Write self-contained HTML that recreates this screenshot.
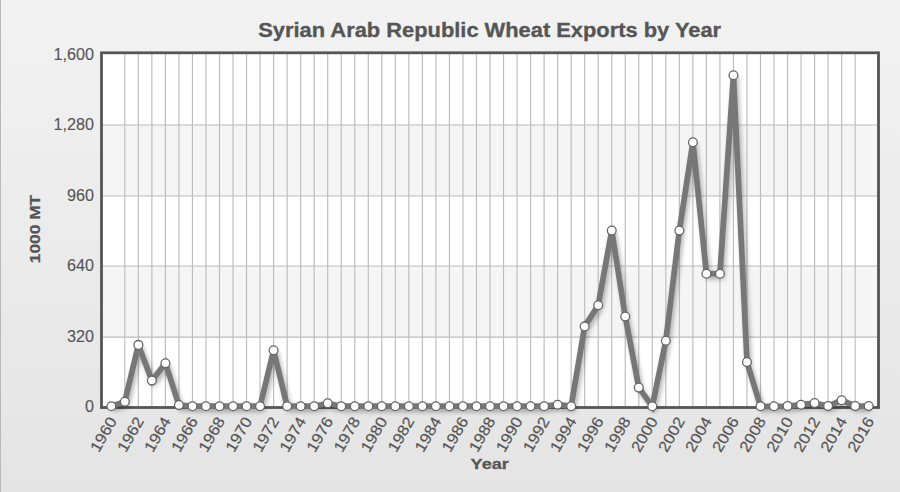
<!DOCTYPE html>
<html><head><meta charset="utf-8"><style>
html,body{margin:0;padding:0;width:900px;height:492px;overflow:hidden;background:#f0f0f0}
svg{display:block}
text{font-family:"Liberation Sans",sans-serif;fill:#555}
.ax{font-size:16px;stroke:#555;stroke-width:0.12px}
.xl{font-size:15.5px;stroke:#555;stroke-width:0.2px}
.title{font-size:19.4px;font-weight:bold;stroke:#555;stroke-width:0.3px}
.axt{font-size:15.5px;font-weight:bold;stroke:#555;stroke-width:0.25px}
</style></head><body>
<svg width="900" height="492" viewBox="0 0 900 492">
<defs>
<linearGradient id="bg" x1="0" y1="0" x2="0" y2="1"><stop offset="0" stop-color="#f2f2f2"/><stop offset="1" stop-color="#e4e4e4"/></linearGradient>
<filter id="sh" x="-20%" y="-20%" width="140%" height="140%"><feGaussianBlur stdDeviation="2"/></filter>
</defs>
<rect x="0" y="0" width="900" height="492" fill="url(#bg)"/>
<rect x="0" y="0" width="1" height="492" fill="#b9b9b9"/>
<rect x="101.5" y="52.80" width="777.0" height="72.20" fill="#ffffff"/>
<rect x="101.5" y="125.00" width="777.0" height="71.00" fill="#f5f5f5"/>
<rect x="101.5" y="196.00" width="777.0" height="70.00" fill="#ffffff"/>
<rect x="101.5" y="266.00" width="777.0" height="71.10" fill="#f5f5f5"/>
<rect x="101.5" y="337.10" width="777.0" height="70.40" fill="#ffffff"/>
<line x1="101.5" x2="878.5" y1="125.0" y2="125.0" stroke="#bcbcbc" stroke-width="1.15"/>
<line x1="101.5" x2="878.5" y1="196.0" y2="196.0" stroke="#bcbcbc" stroke-width="1.15"/>
<line x1="101.5" x2="878.5" y1="266.0" y2="266.0" stroke="#bcbcbc" stroke-width="1.15"/>
<line x1="101.5" x2="878.5" y1="337.1" y2="337.1" stroke="#bcbcbc" stroke-width="1.15"/>
<line x1="124.83" x2="124.83" y1="52.8" y2="407.5" stroke="#bcbcbc" stroke-width="1.15"/>
<line x1="138.35" x2="138.35" y1="52.8" y2="407.5" stroke="#bcbcbc" stroke-width="1.15"/>
<line x1="151.88" x2="151.88" y1="52.8" y2="407.5" stroke="#bcbcbc" stroke-width="1.15"/>
<line x1="165.40" x2="165.40" y1="52.8" y2="407.5" stroke="#bcbcbc" stroke-width="1.15"/>
<line x1="178.93" x2="178.93" y1="52.8" y2="407.5" stroke="#bcbcbc" stroke-width="1.15"/>
<line x1="192.45" x2="192.45" y1="52.8" y2="407.5" stroke="#bcbcbc" stroke-width="1.15"/>
<line x1="205.97" x2="205.97" y1="52.8" y2="407.5" stroke="#bcbcbc" stroke-width="1.15"/>
<line x1="219.50" x2="219.50" y1="52.8" y2="407.5" stroke="#bcbcbc" stroke-width="1.15"/>
<line x1="233.03" x2="233.03" y1="52.8" y2="407.5" stroke="#bcbcbc" stroke-width="1.15"/>
<line x1="246.55" x2="246.55" y1="52.8" y2="407.5" stroke="#bcbcbc" stroke-width="1.15"/>
<line x1="260.07" x2="260.07" y1="52.8" y2="407.5" stroke="#bcbcbc" stroke-width="1.15"/>
<line x1="273.60" x2="273.60" y1="52.8" y2="407.5" stroke="#bcbcbc" stroke-width="1.15"/>
<line x1="287.12" x2="287.12" y1="52.8" y2="407.5" stroke="#bcbcbc" stroke-width="1.15"/>
<line x1="300.65" x2="300.65" y1="52.8" y2="407.5" stroke="#bcbcbc" stroke-width="1.15"/>
<line x1="314.18" x2="314.18" y1="52.8" y2="407.5" stroke="#bcbcbc" stroke-width="1.15"/>
<line x1="327.70" x2="327.70" y1="52.8" y2="407.5" stroke="#bcbcbc" stroke-width="1.15"/>
<line x1="341.23" x2="341.23" y1="52.8" y2="407.5" stroke="#bcbcbc" stroke-width="1.15"/>
<line x1="354.75" x2="354.75" y1="52.8" y2="407.5" stroke="#bcbcbc" stroke-width="1.15"/>
<line x1="368.28" x2="368.28" y1="52.8" y2="407.5" stroke="#bcbcbc" stroke-width="1.15"/>
<line x1="381.80" x2="381.80" y1="52.8" y2="407.5" stroke="#bcbcbc" stroke-width="1.15"/>
<line x1="395.33" x2="395.33" y1="52.8" y2="407.5" stroke="#bcbcbc" stroke-width="1.15"/>
<line x1="408.85" x2="408.85" y1="52.8" y2="407.5" stroke="#bcbcbc" stroke-width="1.15"/>
<line x1="422.38" x2="422.38" y1="52.8" y2="407.5" stroke="#bcbcbc" stroke-width="1.15"/>
<line x1="435.90" x2="435.90" y1="52.8" y2="407.5" stroke="#bcbcbc" stroke-width="1.15"/>
<line x1="449.43" x2="449.43" y1="52.8" y2="407.5" stroke="#bcbcbc" stroke-width="1.15"/>
<line x1="462.95" x2="462.95" y1="52.8" y2="407.5" stroke="#bcbcbc" stroke-width="1.15"/>
<line x1="476.48" x2="476.48" y1="52.8" y2="407.5" stroke="#bcbcbc" stroke-width="1.15"/>
<line x1="490.00" x2="490.00" y1="52.8" y2="407.5" stroke="#bcbcbc" stroke-width="1.15"/>
<line x1="503.53" x2="503.53" y1="52.8" y2="407.5" stroke="#bcbcbc" stroke-width="1.15"/>
<line x1="517.05" x2="517.05" y1="52.8" y2="407.5" stroke="#bcbcbc" stroke-width="1.15"/>
<line x1="530.58" x2="530.58" y1="52.8" y2="407.5" stroke="#bcbcbc" stroke-width="1.15"/>
<line x1="544.10" x2="544.10" y1="52.8" y2="407.5" stroke="#bcbcbc" stroke-width="1.15"/>
<line x1="557.62" x2="557.62" y1="52.8" y2="407.5" stroke="#bcbcbc" stroke-width="1.15"/>
<line x1="571.15" x2="571.15" y1="52.8" y2="407.5" stroke="#bcbcbc" stroke-width="1.15"/>
<line x1="584.67" x2="584.67" y1="52.8" y2="407.5" stroke="#bcbcbc" stroke-width="1.15"/>
<line x1="598.20" x2="598.20" y1="52.8" y2="407.5" stroke="#bcbcbc" stroke-width="1.15"/>
<line x1="611.73" x2="611.73" y1="52.8" y2="407.5" stroke="#bcbcbc" stroke-width="1.15"/>
<line x1="625.25" x2="625.25" y1="52.8" y2="407.5" stroke="#bcbcbc" stroke-width="1.15"/>
<line x1="638.77" x2="638.77" y1="52.8" y2="407.5" stroke="#bcbcbc" stroke-width="1.15"/>
<line x1="652.30" x2="652.30" y1="52.8" y2="407.5" stroke="#bcbcbc" stroke-width="1.15"/>
<line x1="665.82" x2="665.82" y1="52.8" y2="407.5" stroke="#bcbcbc" stroke-width="1.15"/>
<line x1="679.35" x2="679.35" y1="52.8" y2="407.5" stroke="#bcbcbc" stroke-width="1.15"/>
<line x1="692.88" x2="692.88" y1="52.8" y2="407.5" stroke="#bcbcbc" stroke-width="1.15"/>
<line x1="706.40" x2="706.40" y1="52.8" y2="407.5" stroke="#bcbcbc" stroke-width="1.15"/>
<line x1="719.92" x2="719.92" y1="52.8" y2="407.5" stroke="#bcbcbc" stroke-width="1.15"/>
<line x1="733.45" x2="733.45" y1="52.8" y2="407.5" stroke="#bcbcbc" stroke-width="1.15"/>
<line x1="746.98" x2="746.98" y1="52.8" y2="407.5" stroke="#bcbcbc" stroke-width="1.15"/>
<line x1="760.50" x2="760.50" y1="52.8" y2="407.5" stroke="#bcbcbc" stroke-width="1.15"/>
<line x1="774.02" x2="774.02" y1="52.8" y2="407.5" stroke="#bcbcbc" stroke-width="1.15"/>
<line x1="787.55" x2="787.55" y1="52.8" y2="407.5" stroke="#bcbcbc" stroke-width="1.15"/>
<line x1="801.07" x2="801.07" y1="52.8" y2="407.5" stroke="#bcbcbc" stroke-width="1.15"/>
<line x1="814.60" x2="814.60" y1="52.8" y2="407.5" stroke="#bcbcbc" stroke-width="1.15"/>
<line x1="828.12" x2="828.12" y1="52.8" y2="407.5" stroke="#bcbcbc" stroke-width="1.15"/>
<line x1="841.65" x2="841.65" y1="52.8" y2="407.5" stroke="#bcbcbc" stroke-width="1.15"/>
<line x1="855.17" x2="855.17" y1="52.8" y2="407.5" stroke="#bcbcbc" stroke-width="1.15"/>
<rect x="101.5" y="52.8" width="777.0" height="354.7" fill="none" stroke="#555" stroke-width="2.8"/>
<path d="M111.30,406.30 L124.83,401.70 L138.35,344.90 L151.88,380.60 L165.40,363.20 L178.93,405.10 L192.45,406.20 L205.97,406.20 L219.50,406.20 L233.03,406.20 L246.55,406.20 L260.07,406.20 L273.60,350.30 L287.12,406.20 L300.65,406.20 L314.18,406.20 L327.70,403.30 L341.23,406.20 L354.75,406.20 L368.28,406.20 L381.80,406.20 L395.33,406.20 L408.85,406.20 L422.38,406.20 L435.90,406.20 L449.43,406.20 L462.95,406.20 L476.48,406.20 L490.00,406.20 L503.53,406.20 L517.05,406.20 L530.58,406.20 L544.10,406.20 L557.62,404.70 L571.15,406.20 L584.67,326.40 L598.20,305.20 L611.73,230.60 L625.25,316.60 L638.77,387.60 L652.30,406.30 L665.82,340.70 L679.35,230.60 L692.88,142.20 L706.40,273.70 L719.92,273.70 L733.45,75.30 L746.98,362.10 L760.50,406.30 L774.02,406.30 L787.55,406.10 L801.07,404.70 L814.60,403.10 L828.12,406.10 L841.65,400.20 L855.17,406.10 L868.70,406.10" transform="translate(2,3)" fill="none" stroke="#000" stroke-opacity="0.28" stroke-width="6" stroke-linejoin="round" filter="url(#sh)"/>
<path d="M111.30,406.30 L124.83,401.70 L138.35,344.90 L151.88,380.60 L165.40,363.20 L178.93,405.10 L192.45,406.20 L205.97,406.20 L219.50,406.20 L233.03,406.20 L246.55,406.20 L260.07,406.20 L273.60,350.30 L287.12,406.20 L300.65,406.20 L314.18,406.20 L327.70,403.30 L341.23,406.20 L354.75,406.20 L368.28,406.20 L381.80,406.20 L395.33,406.20 L408.85,406.20 L422.38,406.20 L435.90,406.20 L449.43,406.20 L462.95,406.20 L476.48,406.20 L490.00,406.20 L503.53,406.20 L517.05,406.20 L530.58,406.20 L544.10,406.20 L557.62,404.70 L571.15,406.20 L584.67,326.40 L598.20,305.20 L611.73,230.60 L625.25,316.60 L638.77,387.60 L652.30,406.30 L665.82,340.70 L679.35,230.60 L692.88,142.20 L706.40,273.70 L719.92,273.70 L733.45,75.30 L746.98,362.10 L760.50,406.30 L774.02,406.30 L787.55,406.10 L801.07,404.70 L814.60,403.10 L828.12,406.10 L841.65,400.20 L855.17,406.10 L868.70,406.10" fill="none" stroke="#777" stroke-width="5.7" stroke-linejoin="miter" stroke-miterlimit="3"/>
<circle cx="111.30" cy="406.30" r="4.4" fill="#fff" stroke="#666" stroke-width="1.3"/>
<circle cx="124.83" cy="401.70" r="4.4" fill="#fff" stroke="#666" stroke-width="1.3"/>
<circle cx="138.35" cy="344.90" r="4.4" fill="#fff" stroke="#666" stroke-width="1.3"/>
<circle cx="151.88" cy="380.60" r="4.4" fill="#fff" stroke="#666" stroke-width="1.3"/>
<circle cx="165.40" cy="363.20" r="4.4" fill="#fff" stroke="#666" stroke-width="1.3"/>
<circle cx="178.93" cy="405.10" r="4.4" fill="#fff" stroke="#666" stroke-width="1.3"/>
<circle cx="192.45" cy="406.20" r="4.4" fill="#fff" stroke="#666" stroke-width="1.3"/>
<circle cx="205.97" cy="406.20" r="4.4" fill="#fff" stroke="#666" stroke-width="1.3"/>
<circle cx="219.50" cy="406.20" r="4.4" fill="#fff" stroke="#666" stroke-width="1.3"/>
<circle cx="233.03" cy="406.20" r="4.4" fill="#fff" stroke="#666" stroke-width="1.3"/>
<circle cx="246.55" cy="406.20" r="4.4" fill="#fff" stroke="#666" stroke-width="1.3"/>
<circle cx="260.07" cy="406.20" r="4.4" fill="#fff" stroke="#666" stroke-width="1.3"/>
<circle cx="273.60" cy="350.30" r="4.4" fill="#fff" stroke="#666" stroke-width="1.3"/>
<circle cx="287.12" cy="406.20" r="4.4" fill="#fff" stroke="#666" stroke-width="1.3"/>
<circle cx="300.65" cy="406.20" r="4.4" fill="#fff" stroke="#666" stroke-width="1.3"/>
<circle cx="314.18" cy="406.20" r="4.4" fill="#fff" stroke="#666" stroke-width="1.3"/>
<circle cx="327.70" cy="403.30" r="4.4" fill="#fff" stroke="#666" stroke-width="1.3"/>
<circle cx="341.23" cy="406.20" r="4.4" fill="#fff" stroke="#666" stroke-width="1.3"/>
<circle cx="354.75" cy="406.20" r="4.4" fill="#fff" stroke="#666" stroke-width="1.3"/>
<circle cx="368.28" cy="406.20" r="4.4" fill="#fff" stroke="#666" stroke-width="1.3"/>
<circle cx="381.80" cy="406.20" r="4.4" fill="#fff" stroke="#666" stroke-width="1.3"/>
<circle cx="395.33" cy="406.20" r="4.4" fill="#fff" stroke="#666" stroke-width="1.3"/>
<circle cx="408.85" cy="406.20" r="4.4" fill="#fff" stroke="#666" stroke-width="1.3"/>
<circle cx="422.38" cy="406.20" r="4.4" fill="#fff" stroke="#666" stroke-width="1.3"/>
<circle cx="435.90" cy="406.20" r="4.4" fill="#fff" stroke="#666" stroke-width="1.3"/>
<circle cx="449.43" cy="406.20" r="4.4" fill="#fff" stroke="#666" stroke-width="1.3"/>
<circle cx="462.95" cy="406.20" r="4.4" fill="#fff" stroke="#666" stroke-width="1.3"/>
<circle cx="476.48" cy="406.20" r="4.4" fill="#fff" stroke="#666" stroke-width="1.3"/>
<circle cx="490.00" cy="406.20" r="4.4" fill="#fff" stroke="#666" stroke-width="1.3"/>
<circle cx="503.53" cy="406.20" r="4.4" fill="#fff" stroke="#666" stroke-width="1.3"/>
<circle cx="517.05" cy="406.20" r="4.4" fill="#fff" stroke="#666" stroke-width="1.3"/>
<circle cx="530.58" cy="406.20" r="4.4" fill="#fff" stroke="#666" stroke-width="1.3"/>
<circle cx="544.10" cy="406.20" r="4.4" fill="#fff" stroke="#666" stroke-width="1.3"/>
<circle cx="557.62" cy="404.70" r="4.4" fill="#fff" stroke="#666" stroke-width="1.3"/>
<circle cx="571.15" cy="406.20" r="4.4" fill="#fff" stroke="#666" stroke-width="1.3"/>
<circle cx="584.67" cy="326.40" r="4.4" fill="#fff" stroke="#666" stroke-width="1.3"/>
<circle cx="598.20" cy="305.20" r="4.4" fill="#fff" stroke="#666" stroke-width="1.3"/>
<circle cx="611.73" cy="230.60" r="4.4" fill="#fff" stroke="#666" stroke-width="1.3"/>
<circle cx="625.25" cy="316.60" r="4.4" fill="#fff" stroke="#666" stroke-width="1.3"/>
<circle cx="638.77" cy="387.60" r="4.4" fill="#fff" stroke="#666" stroke-width="1.3"/>
<circle cx="652.30" cy="406.30" r="4.4" fill="#fff" stroke="#666" stroke-width="1.3"/>
<circle cx="665.82" cy="340.70" r="4.4" fill="#fff" stroke="#666" stroke-width="1.3"/>
<circle cx="679.35" cy="230.60" r="4.4" fill="#fff" stroke="#666" stroke-width="1.3"/>
<circle cx="692.88" cy="142.20" r="4.4" fill="#fff" stroke="#666" stroke-width="1.3"/>
<circle cx="706.40" cy="273.70" r="4.4" fill="#fff" stroke="#666" stroke-width="1.3"/>
<circle cx="719.92" cy="273.70" r="4.4" fill="#fff" stroke="#666" stroke-width="1.3"/>
<circle cx="733.45" cy="75.30" r="4.4" fill="#fff" stroke="#666" stroke-width="1.3"/>
<circle cx="746.98" cy="362.10" r="4.4" fill="#fff" stroke="#666" stroke-width="1.3"/>
<circle cx="760.50" cy="406.30" r="4.4" fill="#fff" stroke="#666" stroke-width="1.3"/>
<circle cx="774.02" cy="406.30" r="4.4" fill="#fff" stroke="#666" stroke-width="1.3"/>
<circle cx="787.55" cy="406.10" r="4.4" fill="#fff" stroke="#666" stroke-width="1.3"/>
<circle cx="801.07" cy="404.70" r="4.4" fill="#fff" stroke="#666" stroke-width="1.3"/>
<circle cx="814.60" cy="403.10" r="4.4" fill="#fff" stroke="#666" stroke-width="1.3"/>
<circle cx="828.12" cy="406.10" r="4.4" fill="#fff" stroke="#666" stroke-width="1.3"/>
<circle cx="841.65" cy="400.20" r="4.4" fill="#fff" stroke="#666" stroke-width="1.3"/>
<circle cx="855.17" cy="406.10" r="4.4" fill="#fff" stroke="#666" stroke-width="1.3"/>
<circle cx="868.70" cy="406.10" r="4.4" fill="#fff" stroke="#666" stroke-width="1.3"/>
<text transform="translate(93.9,59.60) scale(1.01,1)" text-anchor="end" class="ax">1,600</text>
<text transform="translate(93.9,130.25) scale(1.01,1)" text-anchor="end" class="ax">1,280</text>
<text transform="translate(93.9,200.65) scale(1.01,1)" text-anchor="end" class="ax">960</text>
<text transform="translate(93.9,271.10) scale(1.01,1)" text-anchor="end" class="ax">640</text>
<text transform="translate(93.9,341.60) scale(1.01,1)" text-anchor="end" class="ax">320</text>
<text transform="translate(93.9,411.50) scale(1.01,1)" text-anchor="end" class="ax">0</text>
<text transform="translate(117.30,421) rotate(-60) scale(1.08,1)" text-anchor="end" class="xl">1960</text>
<text transform="translate(144.35,421) rotate(-60) scale(1.08,1)" text-anchor="end" class="xl">1962</text>
<text transform="translate(171.40,421) rotate(-60) scale(1.08,1)" text-anchor="end" class="xl">1964</text>
<text transform="translate(198.45,421) rotate(-60) scale(1.08,1)" text-anchor="end" class="xl">1966</text>
<text transform="translate(225.50,421) rotate(-60) scale(1.08,1)" text-anchor="end" class="xl">1968</text>
<text transform="translate(252.55,421) rotate(-60) scale(1.08,1)" text-anchor="end" class="xl">1970</text>
<text transform="translate(279.60,421) rotate(-60) scale(1.08,1)" text-anchor="end" class="xl">1972</text>
<text transform="translate(306.65,421) rotate(-60) scale(1.08,1)" text-anchor="end" class="xl">1974</text>
<text transform="translate(333.70,421) rotate(-60) scale(1.08,1)" text-anchor="end" class="xl">1976</text>
<text transform="translate(360.75,421) rotate(-60) scale(1.08,1)" text-anchor="end" class="xl">1978</text>
<text transform="translate(387.80,421) rotate(-60) scale(1.08,1)" text-anchor="end" class="xl">1980</text>
<text transform="translate(414.85,421) rotate(-60) scale(1.08,1)" text-anchor="end" class="xl">1982</text>
<text transform="translate(441.90,421) rotate(-60) scale(1.08,1)" text-anchor="end" class="xl">1984</text>
<text transform="translate(468.95,421) rotate(-60) scale(1.08,1)" text-anchor="end" class="xl">1986</text>
<text transform="translate(496.00,421) rotate(-60) scale(1.08,1)" text-anchor="end" class="xl">1988</text>
<text transform="translate(523.05,421) rotate(-60) scale(1.08,1)" text-anchor="end" class="xl">1990</text>
<text transform="translate(550.10,421) rotate(-60) scale(1.08,1)" text-anchor="end" class="xl">1992</text>
<text transform="translate(577.15,421) rotate(-60) scale(1.08,1)" text-anchor="end" class="xl">1994</text>
<text transform="translate(604.20,421) rotate(-60) scale(1.08,1)" text-anchor="end" class="xl">1996</text>
<text transform="translate(631.25,421) rotate(-60) scale(1.08,1)" text-anchor="end" class="xl">1998</text>
<text transform="translate(658.30,421) rotate(-60) scale(1.08,1)" text-anchor="end" class="xl">2000</text>
<text transform="translate(685.35,421) rotate(-60) scale(1.08,1)" text-anchor="end" class="xl">2002</text>
<text transform="translate(712.40,421) rotate(-60) scale(1.08,1)" text-anchor="end" class="xl">2004</text>
<text transform="translate(739.45,421) rotate(-60) scale(1.08,1)" text-anchor="end" class="xl">2006</text>
<text transform="translate(766.50,421) rotate(-60) scale(1.08,1)" text-anchor="end" class="xl">2008</text>
<text transform="translate(793.55,421) rotate(-60) scale(1.08,1)" text-anchor="end" class="xl">2010</text>
<text transform="translate(820.60,421) rotate(-60) scale(1.08,1)" text-anchor="end" class="xl">2012</text>
<text transform="translate(847.65,421) rotate(-60) scale(1.08,1)" text-anchor="end" class="xl">2014</text>
<text transform="translate(874.70,421) rotate(-60) scale(1.08,1)" text-anchor="end" class="xl">2016</text>
<text transform="translate(489.7,36.8) scale(1.128,1)" text-anchor="middle" class="title">Syrian Arab Republic Wheat Exports by Year</text>
<text transform="translate(489.7,468.9) scale(1.17,1)" text-anchor="middle" class="axt">Year</text>
<text transform="translate(39.9,229) rotate(-90) scale(1.12,1)" text-anchor="middle" class="axt">1000 MT</text>
</svg>
</body></html>
